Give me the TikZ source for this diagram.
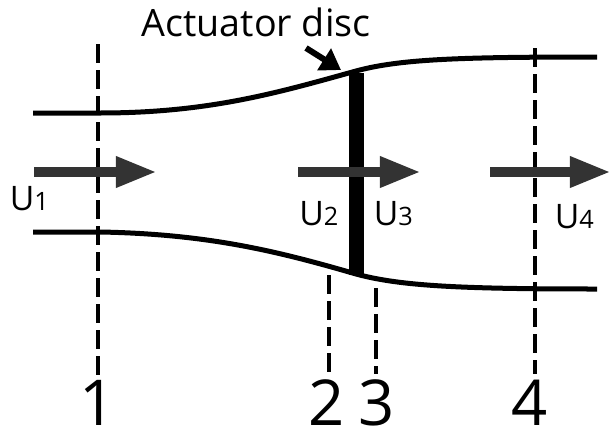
\documentclass[tikz,border=0pt]{standalone}
\usepackage{xcolor}
\usepackage{fontspec}
\setmainfont{Open Sans}
\usepackage{tikz}
\usetikzlibrary{arrows.meta, positioning}

\definecolor{flowgrey}{HTML}{333333}
\newcommand{\stn}[1]{{\fontsize{18}{18}\selectfont #1}}

\begin{document}
\begin{tikzpicture}[
    x=0.025cm, y=-0.025cm,
    stream/.style={line width=0.125cm, line cap=butt},
    section/.style={line width=0.1cm, dash pattern=on 0.475cm off 0.175cm},
    flow/.style={-{Triangle[length=1.03cm, width=0.72cm]}, line width=0.25cm, flowgrey},
    pointer/.style={-{Triangle[length=0.5cm, width=0.62cm]}, line width=0.15cm},
    disc/.style={fill=black, inner sep=0pt, minimum width=0.375cm, minimum height=5.05cm},
    vel/.style={anchor=base west, inner sep=0pt, font=\fontsize{24}{24}\selectfont},
    num/.style={anchor=base, inner sep=0pt, font=\fontsize{45}{45}\selectfont},
]
\useasboundingbox (0,0) rectangle (611,428);

% ── Stream tube ────────────────────────────────────────────────────
\coordinate (upin)   at (33,113);
\coordinate (upout)  at (597,57);
\coordinate (lowin)  at (33,232);
\coordinate (lowout) at (597,289);
\draw[stream] (upin) -- (100,113)
    .. controls (210,113) and (280,92) .. (356,71)
    .. controls (400,59) and (460,57) .. (upout);
\draw[stream] (lowin) -- (100,232)
    .. controls (210,234) and (280,252) .. (356,274)
    .. controls (400,286) and (460,289) .. (lowout);

% ── Actuator disc ──────────────────────────────────────────────────
\node[disc] (actdisc) at (356.5,174) {};
\node[anchor=base, inner sep=0pt, font=\fontsize{26.8}{26.8}\selectfont]
    (actlabel) at (256,36) {Actuator disc};
\coordinate (pstart) at (306,48);
\coordinate (pend)   at (341,70);
\draw[pointer] (pstart) -- (pend);

% ── Section lines ──────────────────────────────────────────────────
\node[num] (sone)   at (98,425)  {1};
\node[num] (stwo)   at (327,425) {2};
\node[num] (sthree) at (377,425) {3};
\node[num] (sfour)  at (530,425) {4};
\coordinate (topone)   at (98,44);
\coordinate (toptwo)   at (329,275);
\coordinate (topthree) at (376,288);
\coordinate (topfour)  at (535,48);
\draw[section] (topone)   -- (98,375);
\draw[section] (toptwo)   -- (329,372);
\draw[section] (topthree) -- (376,374);
\draw[section] (topfour)  -- (535,374);

% ── Flow arrows ────────────────────────────────────────────────────
\coordinate (aone)   at (34,172);
\coordinate (bone)   at (157,172);
\coordinate (atwo)   at (298,172);
\coordinate (btwo)   at (421,172);
\coordinate (athree) at (490,172);
\coordinate (bthree) at (611,172);
\draw[flow] (aone)   -- (bone);
\draw[flow] (atwo)   -- (btwo);
\draw[flow] (athree) -- (bthree);

% ── Velocities ─────────────────────────────────────────────────────
\node[vel] (uone)   at (9.5,210)  {U\stn{1}};
\node[vel] (utwo)   at (299,225) {U\stn{2}};
\node[vel] (uthree) at (373.5,225) {U\stn{3}};
\node[vel] (ufour)  at (554.5,228) {U\stn{4}};

\end{tikzpicture}
\end{document}
